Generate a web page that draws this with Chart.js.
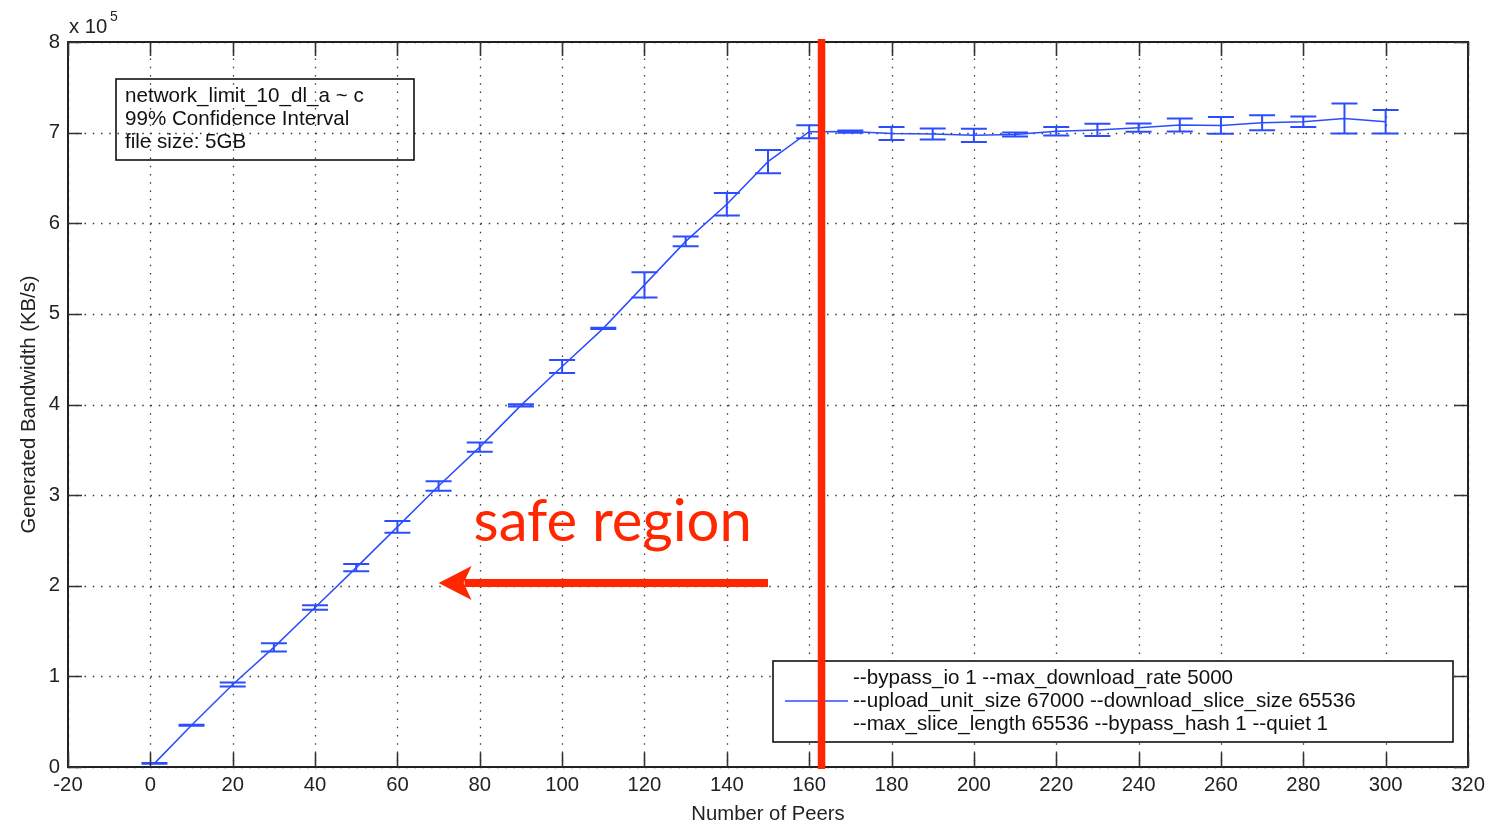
<!DOCTYPE html>
<html><head><meta charset="utf-8">
<script src="https://cdn.jsdelivr.net/npm/chart.js@4.4.1/dist/chart.umd.min.js"></script>
<style>html,body{margin:0;padding:0;background:#fff;overflow:hidden}canvas{display:block}</style>
</head><body>
<canvas id="c" width="1485" height="826"></canvas>
<script>
// ---- data (bandwidth in units of 10^5 KB/s) ----
const peers     = [1, 10, 20, 30, 40, 50, 60, 70, 80, 90, 100, 110, 120, 130, 140, 150, 160, 170, 180, 190, 200, 210, 220, 230, 240, 250, 260, 270, 280, 290, 300];
const bandwidth = [0.04, 0.46, 0.91, 1.32, 1.76, 2.20, 2.65, 3.10, 3.53, 3.99, 4.42, 4.84, 5.32, 5.80, 6.21, 6.68, 7.01, 7.012, 6.99, 6.985, 6.97, 6.98, 7.015, 7.03, 7.055, 7.085, 7.08, 7.11, 7.12, 7.155, 7.12];
const ciHalf    = [0.005, 0.005, 0.022, 0.046, 0.026, 0.039, 0.064, 0.053, 0.05, 0.012, 0.072, 0.008, 0.138, 0.055, 0.125, 0.128, 0.072, 0.012, 0.072, 0.06, 0.074, 0.022, 0.046, 0.068, 0.045, 0.072, 0.092, 0.083, 0.059, 0.166, 0.129];

const xRange = [-20, 320], xStep = 20;
const yRange = [0, 8], yStep = 1;
const yExponent = '5';

const legendLines = ['--bypass_io 1 --max_download_rate 5000',
                     '--upload_unit_size 67000 --download_slice_size 65536',
                     '--max_slice_length 65536 --bypass_hash 1 --quiet 1'];
const noteLines = ['network_limit_10_dl_a ~ c', '99% Confidence Interval', 'file size: 5GB'];

// annotation (data coordinates)
const safeLimit = 163;
const arrowFromX = 150, arrowToX = 70, arrowY = 2.03;
const safeLabel = 'safe region', safeLabelX = 78.5, safeLabelY = 2.49;

// ---- styles ----
const BLUE = '#2b4dff';
const RED = '#ff2600';
const FONT = '"Liberation Sans", Arial, Helvetica, sans-serif';
const FS = 20.3;
const BFS = 20.6;

const framePlugin = {
  id: 'frame',
  beforeDatasetsDraw(chart) {
    const {ctx, chartArea: a, scales: {x, y}} = chart;
    ctx.save();
    ctx.strokeStyle = '#3a3a3a';
    ctx.lineWidth = 1.3;
    ctx.setLineDash([1.5, 6.75]);
    x.ticks.forEach(t => {
      const px = Math.round(x.getPixelForValue(t.value)) + 0.5;
      ctx.beginPath(); ctx.moveTo(px, a.top); ctx.lineTo(px, a.bottom); ctx.stroke();
    });
    y.ticks.forEach(t => {
      const py = Math.round(y.getPixelForValue(t.value)) + 0.5;
      ctx.beginPath(); ctx.moveTo(a.left, py); ctx.lineTo(a.right, py); ctx.stroke();
    });
    ctx.restore();
  },
  afterDatasetsDraw(chart) {
    const {ctx, chartArea: a, scales: {x, y}} = chart;
    ctx.save();
    // error bars
    ctx.strokeStyle = BLUE;
    ctx.lineWidth = 2;
    peers.forEach((p, i) => {
      const px = x.getPixelForValue(p);
      const lo = y.getPixelForValue(bandwidth[i] - ciHalf[i]);
      const hi = y.getPixelForValue(bandwidth[i] + ciHalf[i]);
      ctx.beginPath();
      ctx.moveTo(px, lo); ctx.lineTo(px, hi);
      ctx.moveTo(px - 13, lo); ctx.lineTo(px + 13, lo);
      ctx.moveTo(px - 13, hi); ctx.lineTo(px + 13, hi);
      ctx.stroke();
    });
    // axes box
    ctx.strokeStyle = '#222';
    ctx.lineWidth = 2;
    ctx.strokeRect(a.left, a.top, a.right - a.left, a.bottom - a.top);
    // inward ticks
    ctx.strokeStyle = '#333';
    ctx.lineWidth = 1.6;
    const TL = 14;
    x.ticks.forEach(t => {
      const px = Math.round(x.getPixelForValue(t.value)) + 0.5;
      ctx.beginPath();
      ctx.moveTo(px, a.bottom); ctx.lineTo(px, a.bottom - TL);
      ctx.moveTo(px, a.top); ctx.lineTo(px, a.top + TL);
      ctx.stroke();
    });
    y.ticks.forEach(t => {
      const py = Math.round(y.getPixelForValue(t.value)) + 0.5;
      ctx.beginPath();
      ctx.moveTo(a.left, py); ctx.lineTo(a.left + TL, py);
      ctx.moveTo(a.right, py); ctx.lineTo(a.right - TL, py);
      ctx.stroke();
    });
    // exponent label
    ctx.fillStyle = '#222';
    ctx.textBaseline = 'alphabetic';
    ctx.textAlign = 'left';
    ctx.font = `${FS}px ${FONT}`;
    ctx.fillText('x 10', a.left + 1, a.top - 9);
    ctx.font = `14px ${FONT}`;
    ctx.fillText(yExponent, a.left + 42, a.top - 21);

    // note box (top-left)
    const nb = {l: a.left + 48, t: a.top + 37, w: 298, h: 81};
    ctx.strokeStyle = '#111';
    ctx.lineWidth = 1.6;
    ctx.strokeRect(nb.l, nb.t, nb.w, nb.h);
    ctx.font = `${BFS}px ${FONT}`;
    ctx.textBaseline = 'middle';
    ctx.fillStyle = '#111';
    noteLines.forEach((s, i) => ctx.fillText(s, nb.l + 9, nb.t + 17 + i * 23));

    // legend box (bottom-right)
    const lb = {l: a.right - 695, t: a.bottom - 106, w: 680, h: 81};
    ctx.fillStyle = '#fff';
    ctx.fillRect(lb.l, lb.t, lb.w, lb.h);
    ctx.strokeRect(lb.l, lb.t, lb.w, lb.h);
    ctx.strokeStyle = BLUE;
    ctx.lineWidth = 1.5;
    ctx.beginPath();
    ctx.moveTo(lb.l + 12, lb.t + 40); ctx.lineTo(lb.l + 75, lb.t + 40);
    ctx.stroke();
    ctx.fillStyle = '#111';
    legendLines.forEach((s, i) => ctx.fillText(s, lb.l + 80, lb.t + 17 + i * 23));

    // red threshold line
    const rx = x.getPixelForValue(safeLimit);
    ctx.strokeStyle = RED;
    ctx.lineWidth = 7.5;
    ctx.beginPath();
    ctx.moveTo(rx, a.top - 3); ctx.lineTo(rx, a.bottom + 2);
    ctx.stroke();

    // arrow
    const ay = y.getPixelForValue(arrowY);
    const ax0 = x.getPixelForValue(arrowFromX);
    const ax1 = x.getPixelForValue(arrowToX);
    ctx.lineWidth = 8;
    ctx.beginPath();
    ctx.moveTo(ax0, ay); ctx.lineTo(ax1 + 26, ay);
    ctx.stroke();
    ctx.fillStyle = RED;
    ctx.beginPath();
    ctx.moveTo(ax1, ay);
    ctx.lineTo(ax1 + 33, ay - 17);
    ctx.lineTo(ax1 + 25, ay);
    ctx.lineTo(ax1 + 33, ay + 17);
    ctx.closePath();
    ctx.fill();

    // label
    ctx.font = `58px Lato, "Open Sans", sans-serif`;
    ctx.textBaseline = 'alphabetic';
    ctx.fillText(safeLabel, x.getPixelForValue(safeLabelX), y.getPixelForValue(safeLabelY));
    ctx.restore();
  }
};

new Chart(document.getElementById('c'), {
  type: 'line',
  data: {
    datasets: [{
      label: legendLines.join(' '),
      data: peers.map((p, i) => ({x: p, y: bandwidth[i]})),
      borderColor: BLUE,
      borderWidth: 1.5,
      pointRadius: 0,
      tension: 0,
      fill: false
    }]
  },
  options: {
    responsive: false,
    animation: false,
    devicePixelRatio: 1,
    layout: {padding: {left: 0, right: 17, top: 42, bottom: 0}},
    plugins: {legend: {display: false}, tooltip: {enabled: false}},
    scales: {
      x: {
        type: 'linear', min: xRange[0], max: xRange[1],
        ticks: {stepSize: xStep, color: '#222', font: {family: FONT, size: FS}, padding: 6, maxRotation: 0, autoSkip: false},
        grid: {display: false, drawTicks: false},
        border: {display: false},
        title: {display: true, text: 'Number of Peers', color: '#222', font: {family: FONT, size: FS, lineHeight: 1.1}, padding: {top: 0, bottom: 0}},
        afterFit(s) { s.height = 59; s.paddingLeft = 0; s.paddingRight = 0; }
      },
      y: {
        type: 'linear', min: yRange[0], max: yRange[1],
        ticks: {stepSize: yStep, color: '#222', font: {family: FONT, size: FS}, padding: 8},
        grid: {display: false, drawTicks: false},
        border: {display: false},
        title: {display: true, text: 'Generated Bandwidth (KB/s)', color: '#222', font: {family: FONT, size: FS}, padding: {top: 17, bottom: 0}},
        afterFit(s) { s.width = 68; s.paddingTop = 0; s.paddingBottom = 0; }
      }
    }
  },
  plugins: [framePlugin]
});
</script>
</body></html>
